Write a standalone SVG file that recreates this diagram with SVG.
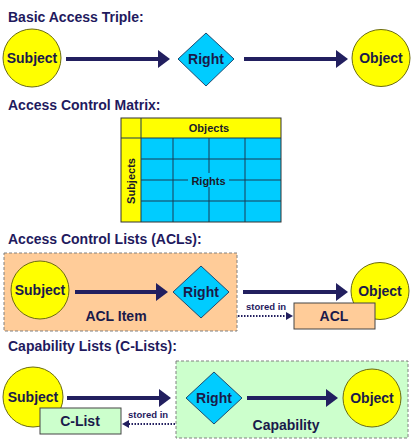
<svg xmlns="http://www.w3.org/2000/svg" width="414" height="448" viewBox="0 0 414 448">
<defs>
<style>
.title{font-family:"Liberation Sans",Arial,sans-serif;font-weight:bold;font-size:14px;fill:#1f1a5e}
.lbl{font-family:"Liberation Sans",Arial,sans-serif;font-weight:bold;font-size:14px;fill:#1a1a4a;text-anchor:middle}
.sm{font-family:"Liberation Sans",Arial,sans-serif;font-weight:bold;font-size:9.5px;fill:#1f1a5e}
.mx{font-family:"Liberation Sans",Arial,sans-serif;font-weight:bold;font-size:11px;fill:#1a1a2a;text-anchor:middle}
.circ{fill:#ffff00;stroke:#6b6b10;stroke-width:1}
.dia{fill:#00ccff;stroke:#1e4a70;stroke-width:1}
.arr{stroke:#221f5f;stroke-width:4;fill:none}
.dot{stroke:#221f5f;stroke-width:2;stroke-dasharray:1.5,1.5;fill:none}
.grid{stroke:#1a3a55;stroke-width:1;fill:none}
.dash{stroke:#808080;stroke-width:1;stroke-dasharray:3,2}
</style>
<marker id="ah" markerUnits="userSpaceOnUse" markerWidth="12" markerHeight="18" refX="2" refY="9" orient="auto">
<path d="M0,0 L12,9 L0,18 z" fill="#221f5f"/>
</marker>
<marker id="sh" markerUnits="userSpaceOnUse" markerWidth="7" markerHeight="8" refX="1" refY="4" orient="auto">
<path d="M0,0 L7,4 L0,8 z" fill="#221f5f"/>
</marker>
</defs>
<rect width="414" height="448" fill="#ffffff"/>

<g id="titles">
<text class="title" x="8" y="22">Basic Access Triple:</text>
<text class="title" x="8" y="110">Access Control Matrix:</text>
<text class="title" x="8" y="244">Access Control Lists (ACLs):</text>
<text class="title" x="8" y="351">Capability Lists (C-Lists):</text>
</g>

<!-- Section 1 -->
<g id="s1-subject"><circle class="circ" cx="32" cy="58" r="29"/><text class="lbl" x="32" y="63">Subject</text></g>
<g id="s1-right"><polygon class="dia" points="206,33 234,59 206,86 178,59"/><text class="lbl" x="206" y="64">Right</text></g>
<g id="s1-object"><ellipse class="circ" cx="381" cy="58" rx="29" ry="28.5"/><text class="lbl" x="381" y="63">Object</text></g>

<!-- Section 2 matrix -->
<g id="matrix">
<rect x="121" y="118" width="160" height="104" fill="#ffff00"/>
<rect x="141" y="138" width="140" height="84" fill="#00ccff"/>
<g class="grid">
<line x1="141" y1="118" x2="141" y2="222"/>
<line x1="121" y1="138" x2="281" y2="138"/>
<line x1="173" y1="138" x2="173" y2="222"/>
<line x1="209" y1="138" x2="209" y2="222"/>
<line x1="245" y1="138" x2="245" y2="222"/>
<line x1="141" y1="159" x2="281" y2="159"/>
<line x1="141" y1="180" x2="281" y2="180"/>
<line x1="141" y1="201" x2="281" y2="201"/>
<rect x="121" y="118" width="160" height="104" stroke="#333"/>
</g>
<rect x="188" y="173" width="41" height="14" fill="#00ccff"/>
<text class="mx" x="209" y="132">Objects</text>
<text class="mx" x="208.5" y="185">Rights</text>
<text class="mx" transform="translate(135,181) rotate(-90)" x="0" y="0">Subjects</text>
</g>

<!-- Section 3 ACL -->
<g id="acl-item"><rect x="4" y="253" width="233" height="78" fill="#ffcc99" class="dash"/><text class="lbl" x="116" y="321">ACL Item</text></g>
<g id="s3-subject"><circle class="circ" cx="40" cy="290" r="29"/><text class="lbl" x="40" y="295">Subject</text></g>
<g id="s3-right"><polygon class="dia" points="201,266 229,292 201,318 173,292"/><text class="lbl" x="201" y="297">Right</text></g>
<g id="s3-object"><ellipse class="circ" cx="380" cy="291" rx="29" ry="28.5"/><text class="lbl" x="380" y="296">Object</text></g>
<g id="acl"><rect x="294" y="303" width="81" height="26" fill="#ffcc99" stroke="#444" stroke-width="1"/><text class="lbl" x="334" y="321">ACL</text></g>

<!-- Section 4 C-List -->
<g id="capability"><rect x="176" y="361" width="232" height="77" fill="#ccffcc" class="dash"/><text class="lbl" x="286" y="430">Capability</text></g>
<g id="s4-subject"><circle class="circ" cx="33" cy="397" r="30"/><text class="lbl" x="33" y="402">Subject</text></g>
<g id="clist"><rect x="40" y="408" width="81" height="26" fill="#ccffcc" stroke="#444" stroke-width="1"/><text class="lbl" x="80" y="426">C-List</text></g>
<g id="s4-right"><polygon class="dia" points="214,372 242,398 214,424 186,398"/><text class="lbl" x="214" y="403">Right</text></g>
<g id="s4-object"><circle class="circ" cx="372" cy="398" r="29"/><text class="lbl" x="372" y="403">Object</text></g>

<g id="connectors">
<line class="arr" x1="66" y1="59" x2="160" y2="59" marker-end="url(#ah)"/>
<line class="arr" x1="244" y1="59" x2="338" y2="59" marker-end="url(#ah)"/>
<line class="arr" x1="75" y1="292" x2="158" y2="292" marker-end="url(#ah)"/>
<line class="arr" x1="243" y1="292" x2="338" y2="292" marker-end="url(#ah)"/>
<line class="dot" x1="238" y1="316" x2="287" y2="316" marker-end="url(#sh)"/>
<text class="sm" x="246" y="310">stored in</text>
<line class="arr" x1="67" y1="398" x2="161" y2="398" marker-end="url(#ah)"/>
<line class="arr" x1="247" y1="398" x2="328" y2="398" marker-end="url(#ah)"/>
<line class="dot" x1="175" y1="424" x2="128" y2="424" marker-end="url(#sh)"/>
<text class="sm" x="128" y="418">stored in</text>
</g>
</svg>
